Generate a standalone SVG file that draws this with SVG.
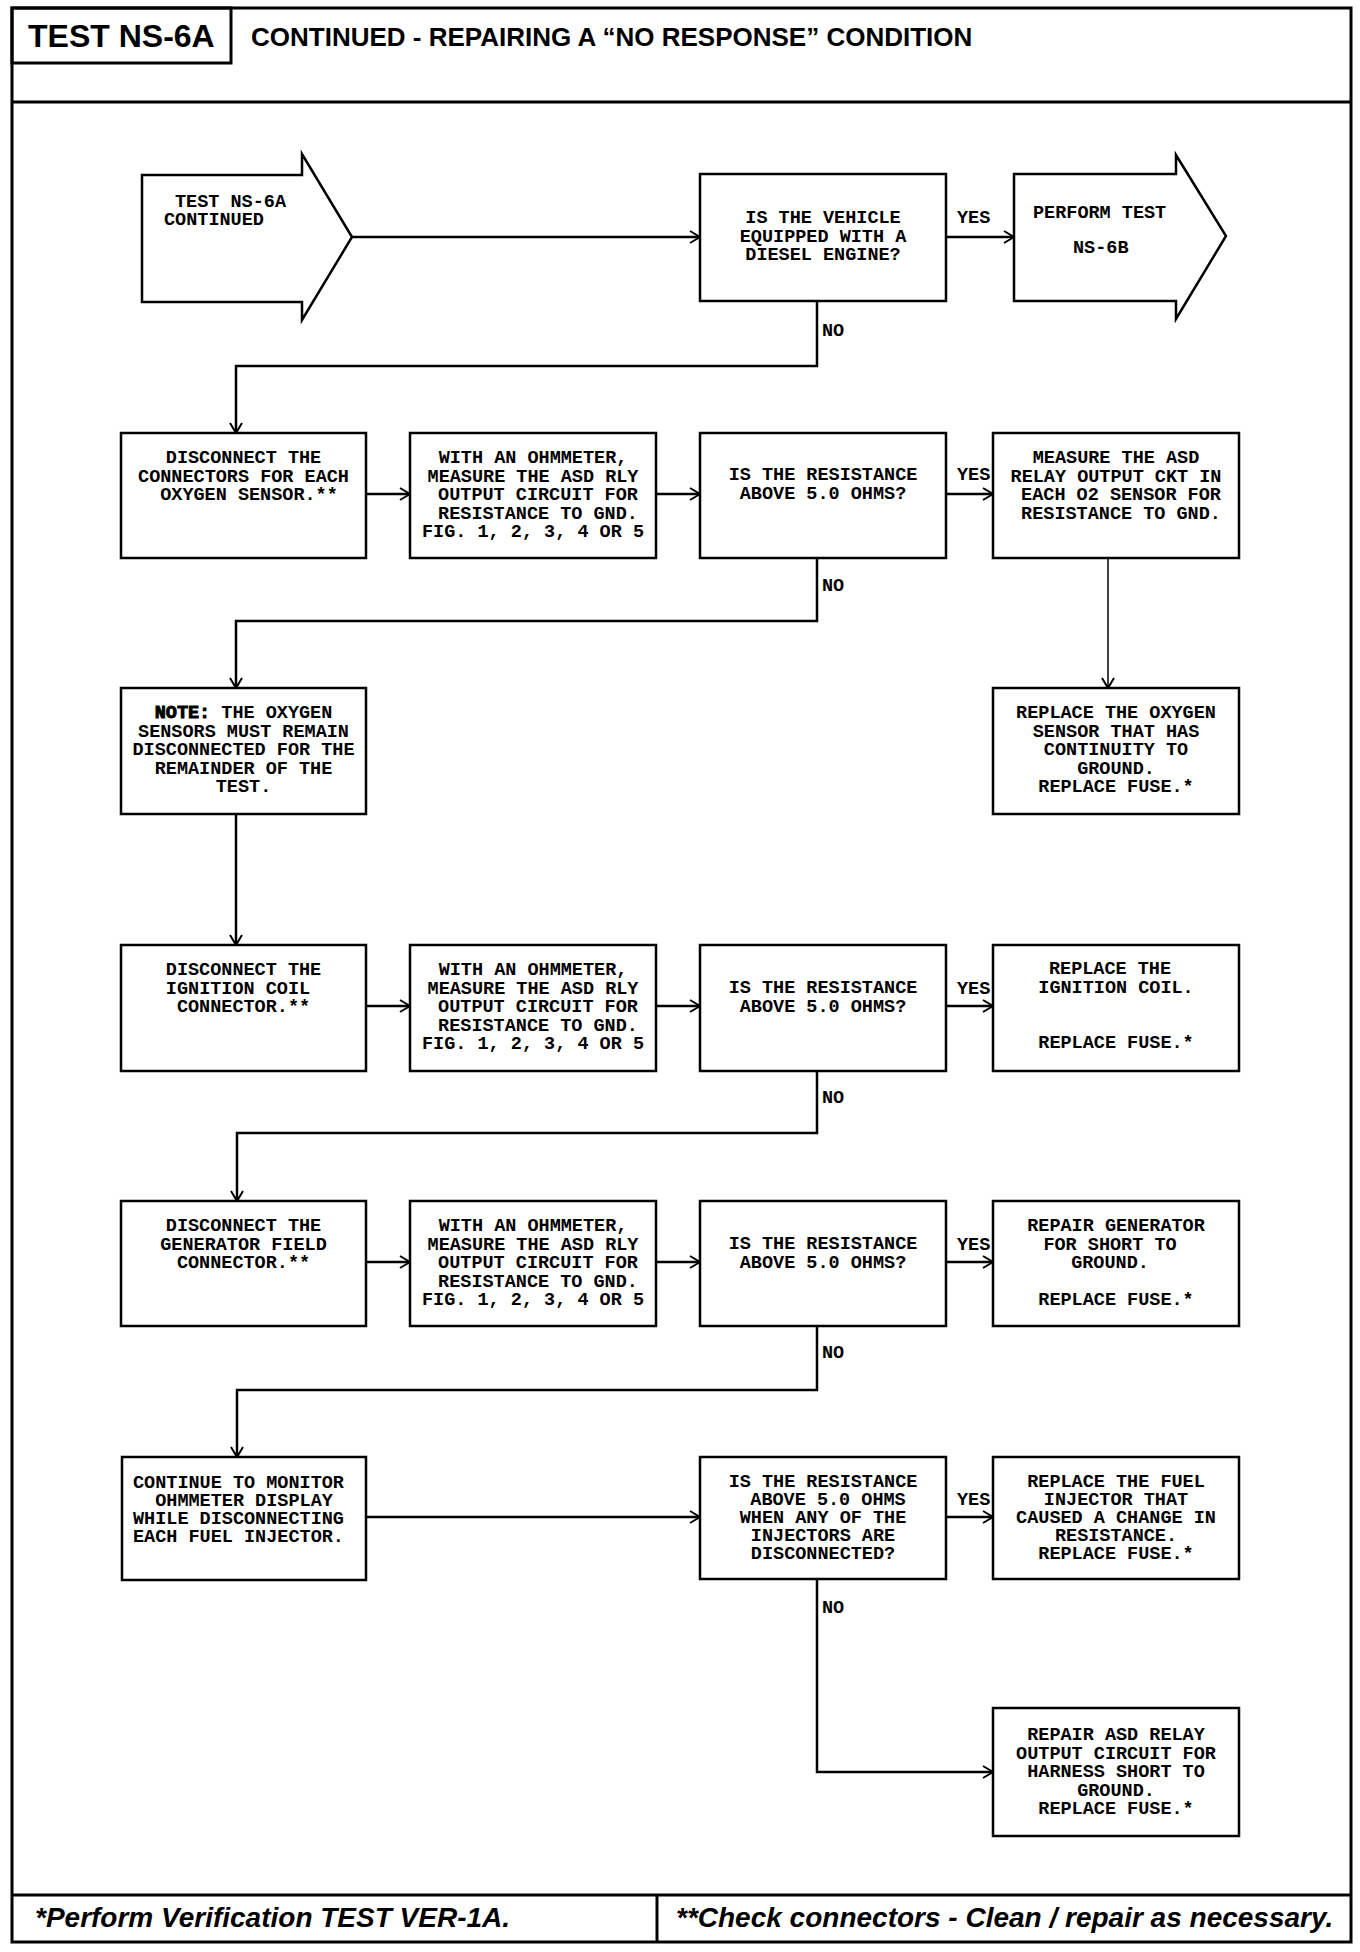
<svg xmlns="http://www.w3.org/2000/svg" width="1360" height="1952" viewBox="0 0 1360 1952">
<style>
.bg{fill:#fff}
.frame{fill:none;stroke:#000;stroke-width:3}
.box{fill:#fff;stroke:#000;stroke-width:2.5}
.ln{fill:none;stroke:#000;stroke-width:2.5}
.thin{fill:none;stroke:#000;stroke-width:1.5}
.t{font-family:"Liberation Mono","Courier New",monospace;font-size:18.5px;font-weight:bold;fill:#000;text-anchor:middle}
.ts{font-family:"Liberation Mono","Courier New",monospace;font-size:18.5px;font-weight:bold;fill:#000;text-anchor:start}
.lbl{font-family:"Liberation Mono","Courier New",monospace;font-size:18.5px;font-weight:bold;fill:#000}
.h1{font-family:"Liberation Sans",Arial,sans-serif;font-weight:bold;fill:#000}
.ft{font-family:"Liberation Sans",Arial,sans-serif;font-weight:bold;font-style:italic;font-size:28px;fill:#000}
</style>
<defs>
<marker id="ah" viewBox="-1 -8 13 16" refX="10" refY="0" markerWidth="13" markerHeight="16" markerUnits="userSpaceOnUse" orient="auto">
<path d="M0,-6 L10,0 L0,6" fill="none" stroke="#000" stroke-width="2"/>
</marker>
</defs>
<rect class="bg" x="0" y="0" width="1360" height="1952"/>

<g id="frame">
<rect class="frame" x="12" y="8" width="1339" height="1934"/>
<rect class="frame" x="12" y="8" width="219" height="55"/>
<line class="frame" x1="12" y1="102" x2="1351" y2="102"/>
<line class="frame" x1="12" y1="1895" x2="1351" y2="1895"/>
<line class="frame" x1="657" y1="1895" x2="657" y2="1942"/>
<text class="h1" x="28" y="47" font-size="32">TEST NS-6A</text>
<text class="h1" x="251" y="46" font-size="26">CONTINUED - REPAIRING A “NO RESPONSE” CONDITION</text>
<text class="ft" x="35" y="1927">*Perform Verification TEST VER-1A.</text>
<text class="ft" x="676" y="1927">**Check connectors - Clean / repair as necessary.</text>
</g>

<g id="connectors">
<line class="ln" x1="352" y1="237" x2="700" y2="237" marker-end="url(#ah)"/>
<line class="ln" x1="946" y1="237" x2="1014" y2="237" marker-end="url(#ah)"/>
<polyline class="ln" points="817,301 817,366 236,366 236,433" marker-end="url(#ah)"/>
<line class="ln" x1="366" y1="494" x2="410" y2="494" marker-end="url(#ah)"/>
<line class="ln" x1="656" y1="494" x2="700" y2="494" marker-end="url(#ah)"/>
<line class="ln" x1="946" y1="494" x2="993" y2="494" marker-end="url(#ah)"/>
<polyline class="ln" points="817,558 817,621 236,621 236,688" marker-end="url(#ah)"/>
<line class="thin" x1="1108" y1="558" x2="1108" y2="688" marker-end="url(#ah)"/>
<line class="ln" x1="236" y1="814" x2="236" y2="945" marker-end="url(#ah)"/>
<line class="ln" x1="366" y1="1006" x2="410" y2="1006" marker-end="url(#ah)"/>
<line class="ln" x1="656" y1="1006" x2="700" y2="1006" marker-end="url(#ah)"/>
<line class="ln" x1="946" y1="1006" x2="993" y2="1006" marker-end="url(#ah)"/>
<polyline class="ln" points="817,1071 817,1133 237,1133 237,1201" marker-end="url(#ah)"/>
<line class="ln" x1="366" y1="1262" x2="410" y2="1262" marker-end="url(#ah)"/>
<line class="ln" x1="656" y1="1262" x2="700" y2="1262" marker-end="url(#ah)"/>
<line class="ln" x1="946" y1="1262" x2="993" y2="1262" marker-end="url(#ah)"/>
<polyline class="ln" points="817,1326 817,1390 237,1390 237,1457" marker-end="url(#ah)"/>
<line class="ln" x1="366" y1="1517" x2="700" y2="1517" marker-end="url(#ah)"/>
<line class="ln" x1="946" y1="1517" x2="993" y2="1517" marker-end="url(#ah)"/>
<polyline class="ln" points="817,1579 817,1772 993,1772" marker-end="url(#ah)"/>
<text class="lbl" x="957" y="223">YES</text>
<text class="lbl" x="822" y="336">NO</text>
<text class="lbl" x="957" y="480">YES</text>
<text class="lbl" x="822" y="591">NO</text>
<text class="lbl" x="957" y="994">YES</text>
<text class="lbl" x="822" y="1103">NO</text>
<text class="lbl" x="957" y="1250">YES</text>
<text class="lbl" x="822" y="1358">NO</text>
<text class="lbl" x="957" y="1505">YES</text>
<text class="lbl" x="822" y="1613">NO</text>
</g>

<g id="start">
<polygon class="box" points="142,175 302,175 302,154 352,237 302,320 302,302 142,302"/>
<text class="ts" xml:space="preserve"><tspan x="175" y="207">TEST NS-6A</tspan><tspan x="164" y="225">CONTINUED</tspan></text>
</g>

<g id="q-diesel">
<rect class="box" x="700" y="174" width="246" height="127"/>
<text class="t"><tspan x="823" y="223">IS THE VEHICLE</tspan><tspan x="823" y="241.5">EQUIPPED WITH A</tspan><tspan x="823" y="260">DIESEL ENGINE?</tspan></text>
</g>

<g id="ns6b">
<polygon class="box" points="1014,174 1176,174 1176,155 1226,236 1176,319 1176,301 1014,301"/>
<text class="ts"><tspan x="1033" y="218">PERFORM TEST</tspan><tspan x="1073" y="253">NS-6B</tspan></text>
</g>

<g id="disc-o2">
<rect class="box" x="121" y="433" width="245" height="125"/>
<text class="t"><tspan x="243.5" y="463">DISCONNECT THE</tspan><tspan x="243.5" y="481.5">CONNECTORS FOR EACH</tspan><tspan x="249" y="500">OXYGEN SENSOR.**</tspan></text>
</g>

<g id="meas1">
<rect class="box" x="410" y="433" width="246" height="125"/>
<text class="t"><tspan x="533" y="463">WITH AN OHMMETER,</tspan><tspan x="533" y="481.5">MEASURE THE ASD RLY</tspan><tspan x="538" y="500">OUTPUT CIRCUIT FOR</tspan><tspan x="538" y="518.5">RESISTANCE TO GND.</tspan><tspan x="533" y="537">FIG. 1, 2, 3, 4 OR 5</tspan></text>
</g>

<g id="q1">
<rect class="box" x="700" y="433" width="246" height="125"/>
<text class="t"><tspan x="823" y="480">IS THE RESISTANCE</tspan><tspan x="823" y="498.5">ABOVE 5.0 OHMS?</tspan></text>
</g>

<g id="meas-o2">
<rect class="box" x="993" y="433" width="246" height="125"/>
<text class="t"><tspan x="1116" y="463">MEASURE THE ASD</tspan><tspan x="1116" y="481.5">RELAY OUTPUT CKT IN</tspan><tspan x="1121" y="500">EACH O2 SENSOR FOR</tspan><tspan x="1121" y="518.5">RESISTANCE TO GND.</tspan></text>
</g>

<g id="note">
<rect class="box" x="121" y="688" width="245" height="126"/>
<text class="t"><tspan x="243.5" y="718"><tspan stroke="#000" stroke-width="0.9">NOTE:</tspan> THE OXYGEN</tspan><tspan x="243.5" y="736.5">SENSORS MUST REMAIN</tspan><tspan x="243.5" y="755">DISCONNECTED FOR THE</tspan><tspan x="243.5" y="773.5">REMAINDER OF THE</tspan><tspan x="243.5" y="792">TEST.</tspan></text>
</g>

<g id="repl-o2">
<rect class="box" x="993" y="688" width="246" height="126"/>
<text class="t"><tspan x="1116" y="718">REPLACE THE OXYGEN</tspan><tspan x="1116" y="736.5">SENSOR THAT HAS</tspan><tspan x="1116" y="755">CONTINUITY TO</tspan><tspan x="1116" y="773.5">GROUND.</tspan><tspan x="1116" y="792">REPLACE FUSE.*</tspan></text>
</g>

<g id="disc-ign">
<rect class="box" x="121" y="945" width="245" height="126"/>
<text class="t"><tspan x="243.5" y="975">DISCONNECT THE</tspan><tspan x="238" y="993.5">IGNITION COIL</tspan><tspan x="243.5" y="1012">CONNECTOR.**</tspan></text>
</g>

<g id="meas2">
<rect class="box" x="410" y="945" width="246" height="126"/>
<text class="t"><tspan x="533" y="975">WITH AN OHMMETER,</tspan><tspan x="533" y="993.5">MEASURE THE ASD RLY</tspan><tspan x="538" y="1012">OUTPUT CIRCUIT FOR</tspan><tspan x="538" y="1030.5">RESISTANCE TO GND.</tspan><tspan x="533" y="1049">FIG. 1, 2, 3, 4 OR 5</tspan></text>
</g>

<g id="q2">
<rect class="box" x="700" y="945" width="246" height="126"/>
<text class="t"><tspan x="823" y="993">IS THE RESISTANCE</tspan><tspan x="823" y="1011.5">ABOVE 5.0 OHMS?</tspan></text>
</g>

<g id="repl-ign">
<rect class="box" x="993" y="945" width="246" height="126"/>
<text class="t"><tspan x="1110" y="974">REPLACE THE</tspan><tspan x="1116" y="992.5">IGNITION COIL.</tspan><tspan x="1116" y="1048">REPLACE FUSE.*</tspan></text>
</g>

<g id="disc-gen">
<rect class="box" x="121" y="1201" width="245" height="125"/>
<text class="t"><tspan x="243.5" y="1231">DISCONNECT THE</tspan><tspan x="243.5" y="1249.5">GENERATOR FIELD</tspan><tspan x="243.5" y="1268">CONNECTOR.**</tspan></text>
</g>

<g id="meas3">
<rect class="box" x="410" y="1201" width="246" height="125"/>
<text class="t"><tspan x="533" y="1231">WITH AN OHMMETER,</tspan><tspan x="533" y="1249.5">MEASURE THE ASD RLY</tspan><tspan x="538" y="1268">OUTPUT CIRCUIT FOR</tspan><tspan x="538" y="1286.5">RESISTANCE TO GND.</tspan><tspan x="533" y="1305">FIG. 1, 2, 3, 4 OR 5</tspan></text>
</g>

<g id="q3">
<rect class="box" x="700" y="1201" width="246" height="125"/>
<text class="t"><tspan x="823" y="1249">IS THE RESISTANCE</tspan><tspan x="823" y="1267.5">ABOVE 5.0 OHMS?</tspan></text>
</g>

<g id="repair-gen">
<rect class="box" x="993" y="1201" width="246" height="125"/>
<text class="t"><tspan x="1116" y="1231">REPAIR GENERATOR</tspan><tspan x="1110" y="1249.5">FOR SHORT TO</tspan><tspan x="1110" y="1268">GROUND.</tspan><tspan x="1116" y="1305">REPLACE FUSE.*</tspan></text>
</g>

<g id="monitor">
<rect class="box" x="122" y="1457" width="244" height="123"/>
<text class="ts" xml:space="preserve"><tspan x="133" y="1488">CONTINUE TO MONITOR</tspan><tspan x="133" y="1506">  OHMMETER DISPLAY</tspan><tspan x="133" y="1524">WHILE DISCONNECTING</tspan><tspan x="133" y="1542">EACH FUEL INJECTOR.</tspan></text>
</g>

<g id="q4">
<rect class="box" x="700" y="1457" width="246" height="122"/>
<text class="t"><tspan x="823" y="1487">IS THE RESISTANCE</tspan><tspan x="828" y="1505">ABOVE 5.0 OHMS</tspan><tspan x="823" y="1523">WHEN ANY OF THE</tspan><tspan x="823" y="1541">INJECTORS ARE</tspan><tspan x="823" y="1559">DISCONNECTED?</tspan></text>
</g>

<g id="repl-inj">
<rect class="box" x="993" y="1457" width="246" height="122"/>
<text class="t"><tspan x="1116" y="1487">REPLACE THE FUEL</tspan><tspan x="1116" y="1505">INJECTOR THAT</tspan><tspan x="1116" y="1523">CAUSED A CHANGE IN</tspan><tspan x="1116" y="1541">RESISTANCE.</tspan><tspan x="1116" y="1559">REPLACE FUSE.*</tspan></text>
</g>

<g id="repair-asd">
<rect class="box" x="993" y="1708" width="246" height="128"/>
<text class="t"><tspan x="1116" y="1740">REPAIR ASD RELAY</tspan><tspan x="1116" y="1758.5">OUTPUT CIRCUIT FOR</tspan><tspan x="1116" y="1777">HARNESS SHORT TO</tspan><tspan x="1116" y="1795.5">GROUND.</tspan><tspan x="1116" y="1814">REPLACE FUSE.*</tspan></text>
</g>
</svg>
